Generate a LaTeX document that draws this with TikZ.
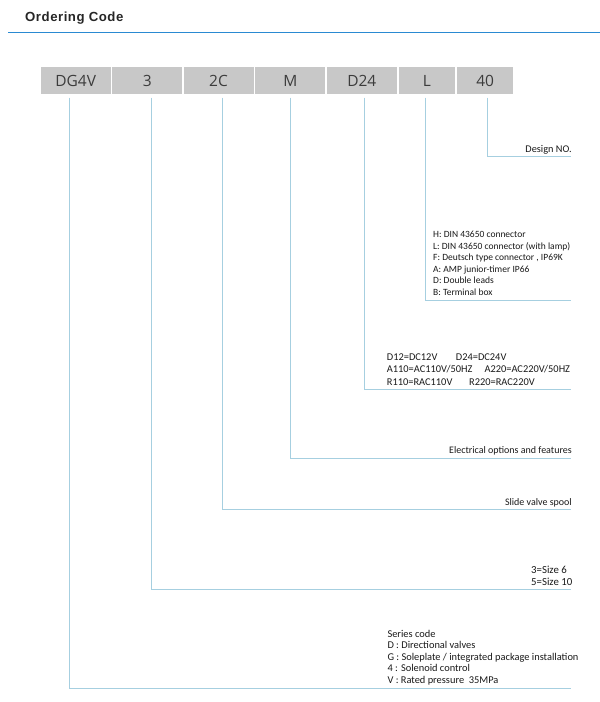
\documentclass[tikz,border=0pt]{standalone}
\usepackage{fontspec}
\setmainfont{Carlito}
\newfontfamily\titlefont[LetterSpace=4]{Liberation Sans}
\newfontfamily\boxfont{Open Sans}
\definecolor{titleblue}{HTML}{2A8AD2}
\definecolor{leadblue}{HTML}{A6CFE0}
\definecolor{boxgray}{HTML}{C8C8C8}
\definecolor{textgray}{HTML}{1A1A1A}

\begin{document}
\begin{tikzpicture}[x=1pt,y=-1pt,
    codebox/.style={rectangle,fill=boxgray,minimum height=27.6pt,inner sep=0pt,
        font=\boxfont\fontsize{15.5}{18}\selectfont,text=textgray!85},
    lead/.style={draw=leadblue,line width=1pt},
    note/.style={inner sep=0pt,text=textgray,align=left,
        font=\fontsize{10}{11.6}\selectfont}]
    \useasboundingbox[fill=white] (0,0) rectangle (600,702);

    % title
    \node[anchor=west,inner sep=0pt,font=\titlefont\bfseries\fontsize{13.2}{15}\selectfont,
        text=black!85] (title) at (25,18.5) {Ordering Code};
    \coordinate (rulel) at (8,32.3);
    \coordinate (ruler) at (600,32.3);
    \draw[titleblue,line width=1.2pt] (rulel) -- (ruler);

    % code boxes
    \begin{scope}[every node/.style={codebox}]
        \node[minimum width=70pt] (series) at (75.7,80.5) {DG4V};
        \node[minimum width=70pt] (size) at (147.2,80.5) {3};
        \node[minimum width=70pt] (spool) at (218.5,80.5) {2C};
        \node[minimum width=70pt] (elec) at (290.3,80.5) {M};
        \node[minimum width=70pt] (volt) at (361.8,80.5) {D24};
        \node[minimum width=56pt] (conn) at (426.8,80.5) {L};
        \node[minimum width=56pt] (design) at (485.2,80.5) {40};
    \end{scope}

    % leader start and end points
    \coordinate (s1) at (69,97.5);
    \coordinate (s2) at (151.5,97.5);
    \coordinate (s3) at (222.7,97.5);
    \coordinate (s4) at (290.7,97.5);
    \coordinate (s5) at (364.7,97.5);
    \coordinate (s6) at (425.5,97.5);
    \coordinate (s7) at (487.3,97.5);
    \coordinate (e1) at (571,688.3);
    \coordinate (e2) at (571,589);
    \coordinate (e3) at (571,509.3);
    \coordinate (e4) at (571,458.3);
    \coordinate (e5) at (571,389.3);
    \coordinate (e6) at (571,300);
    \coordinate (e7) at (571,156);

    \begin{scope}[every path/.style={lead}]
        \path (s1) |- (e1);
        \path (s2) |- (e2);
        \path (s3) |- (e3);
        \path (s4) |- (e4);
        \path (s5) |- (e5);
        \path (s6) |- (e6);
        \path (s7) |- (e7);
    \end{scope}

    % notes
    \node[note,anchor=east,font=\fontsize{10.3}{12}\selectfont] (designtxt) at (572,150) {Design NO.};
    \node[note,anchor=west,font=\fontsize{9.5}{11.55}\selectfont] (conntxt) at (433,263.2)
        {H: DIN 43650 connector\\
        L: DIN 43650 connector (with lamp)\\
        F: Deutsch type connector , IP69K\\
        A: AMP junior-timer IP66\\
        D: Double leads\\
        B: Terminal box};
    \node[note,anchor=west,font=\fontsize{10.4}{12.8}\selectfont] (volttxt) at (386.7,369.6)
        {\makebox[69pt][l]{D12=DC12V}D24=DC24V\\
        \makebox[97.6pt][l]{A110=AC110V/50HZ}A220=AC220V/50HZ\\
        \makebox[82.3pt][l]{R110=RAC110V}R220=RAC220V};
    \node[note,anchor=east] (electxt) at (572,450.5) {Electrical options and features};
    \node[note,anchor=east] (spooltxt) at (572,503) {Slide valve spool};
    \node[note,anchor=west,font=\fontsize{10.8}{12.2}\selectfont] (sizetxt) at (531,576.2)
        {3=Size 6\\5=Size 10};
    \node[note,anchor=west,font=\fontsize{10.4}{11.6}\selectfont] (seriestxt) at (387.3,657.5)
        {Series code\\
        D : Directional valves\\
        G : Soleplate / integrated package installation\\
        4 : Solenoid control\\
        V : Rated pressure\ \ 35MPa};
\end{tikzpicture}
\end{document}
